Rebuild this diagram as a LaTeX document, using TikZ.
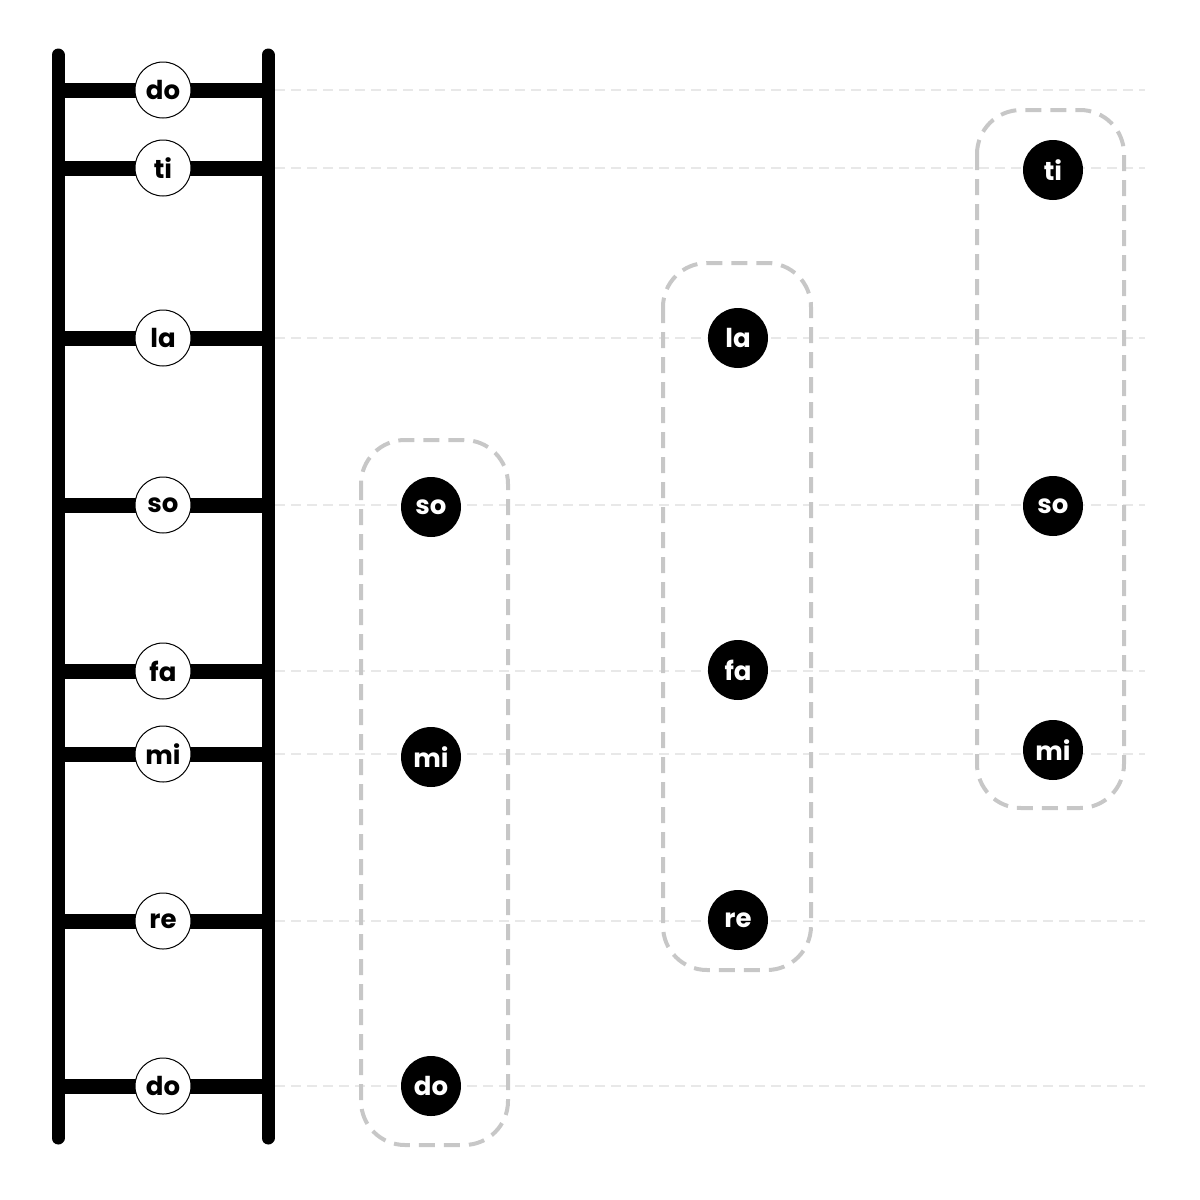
\documentclass[tikz,border=0pt]{standalone}
\usepackage{fontspec}
\setmainfont{Poppins}
\begin{document}
\begin{tikzpicture}[x=0.5pt,y=-0.5pt,
  rail/.style={line width=6.5pt,line cap=round},
  rung/.style={line width=7.5pt},
  guide/.style={draw=black!9,line width=0.7pt,dash pattern=on 5pt off 3pt},
  lbl/.style={circle,draw=black,line width=0.5pt,fill=white,minimum size=28pt,inner sep=0pt,font=\fontsize{13}{13}\selectfont\bfseries},
  note/.style={circle,fill=black,text=white,minimum size=30pt,inner sep=0pt,font=\fontsize{13}{13}\selectfont\bfseries},
  grp/.style={draw=black!22,line width=2pt,dash pattern=on 8pt off 4.5pt,rounded corners=22pt}]
\useasboundingbox (0,0) rectangle (1200,1200);
% guides
\foreach \y/\n in {90/a,168/b,338/c,505/d,671/e,754/f,921/g,1086/h}{
  \coordinate (gs\n) at (275,\y);
  \coordinate (ge\n) at (1145,\y);
  \draw[guide] (gs\n) -- (ge\n);
}
% groups
\draw[grp] (361,440) rectangle (508,1145);
\draw[grp] (663,263) rectangle (811,970);
\draw[grp] (977,110) rectangle (1124,808);
% rails
\coordinate (lt) at (58,55); \coordinate (lb) at (58,1138);
\coordinate (rt) at (268,55); \coordinate (rb) at (268,1138);
\draw[rail] (lt) -- (lb);
\draw[rail] (rt) -- (rb);
% rungs
\foreach \y/\t/\n in {90/do/a,168/ti/b,338/la/c,505/so/d,671/fa/e,754/mi/f,921/re/g,1086/do/h}{
  \coordinate (rl\n) at (58,\y);
  \coordinate (rr\n) at (268,\y);
  \draw[rung] (rl\n) -- (rr\n);
  \node[lbl] (l\n) at (163,\y) {\t};
}
% notes
\node[note] (g1so) at (431,507) {so};
\node[note] (g1mi) at (431,757) {mi};
\node[note] (g1do) at (431,1086) {do};
\node[note] (g2la) at (738,338) {la};
\node[note] (g2fa) at (738,670) {fa};
\node[note] (g2re) at (738,920) {re};
\node[note] (g3ti) at (1053,170) {ti};
\node[note] (g3so) at (1053,506) {so};
\node[note] (g3mi) at (1053,750) {mi};
\end{tikzpicture}
\end{document}
